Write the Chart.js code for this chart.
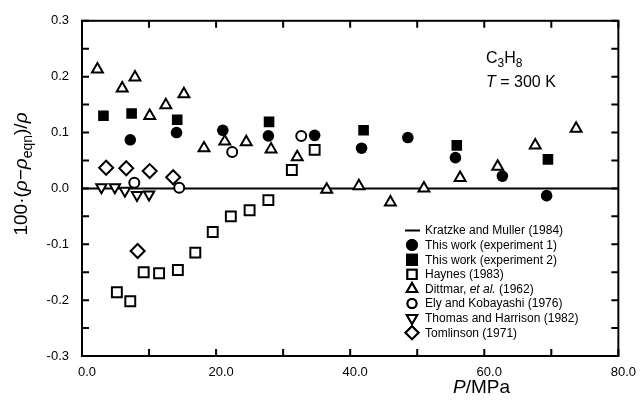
<!DOCTYPE html>
<html>
<head>
<meta charset="utf-8">
<title>C3H8 density deviations</title>
<script src="https://cdn.jsdelivr.net/npm/chart.js@4.4.0/dist/chart.umd.min.js"></script>
<style>
  html, body { margin: 0; padding: 0; background: #fff; }
  #wrap { width: 640px; height: 402px; }
</style>
</head>
<body>
<div id="wrap"><canvas id="chart"></canvas></div>
<script>
// pressure (MPa) and deviation 100*(rho - rho_eqn)/rho for every source
const kratzkeP = [0, 80];
const kratzkeDev = [0, 0];

const exp1P = [7.2, 14.1, 21.0, 27.8, 34.7, 41.7, 48.6, 55.7, 62.7, 69.3];
const exp1Dev = [0.087, 0.100, 0.104, 0.094, 0.095, 0.072, 0.091, 0.055, 0.022, -0.013];

const exp2P = [3.2, 7.4, 14.2, 27.9, 42.0, 55.9, 69.5];
const exp2Dev = [0.130, 0.134, 0.123, 0.119, 0.104, 0.077, 0.052];

const haynesP = [5.2, 7.2, 9.2, 11.5, 14.3, 16.9, 19.5, 22.2, 25.0, 27.8, 31.3, 34.7];
const haynesDev = [-0.186, -0.202, -0.150, -0.152, -0.146, -0.115, -0.078, -0.050, -0.039, -0.021, 0.033, 0.069];

const dittmarP = [2.3, 6.0, 7.9, 10.1, 12.5, 15.2, 18.2, 21.3, 24.5, 28.2, 32.1, 36.5, 41.3, 46.0, 51.0, 56.4, 62.0, 67.6, 73.7];
const dittmarDev = [0.213, 0.179, 0.199, 0.130, 0.149, 0.169, 0.072, 0.084, 0.083, 0.070, 0.056, -0.002, 0.004, -0.025, 0.000, 0.019, 0.039, 0.077, 0.107];

const elyP = [7.8, 14.5, 22.4, 32.7];
const elyDev = [0.010, 0.001, 0.065, 0.094];

const thomasP = [2.9, 4.9, 6.4, 8.2, 10.0];
const thomasDev = [0.002, 0.002, -0.004, -0.012, -0.011];

const tomlinsonP = [3.6, 6.6, 8.3, 10.1, 13.6];
const tomlinsonDev = [0.037, 0.036, -0.112, 0.031, 0.020];

const xTicks = [0, 20, 40, 60, 80];
const yTicks = [-0.3, -0.2, -0.1, 0.0, 0.1, 0.2, 0.3];

const FONT = '"Liberation Sans", Arial, Helvetica, sans-serif';

function pts(xs, ys) {
  return xs.map((v, i) => ({ x: v, y: ys[i] }));
}

// legend rows: label runs + marker style
const legendItems = [
  { line: true, runs: [['Kratzke and Muller (1984)']] },
  { style: 'circle', r: 5, fill: '#000', runs: [['This work (experiment 1)']] },
  { style: 'rect', r: 7, fill: '#000', runs: [['This work (experiment 2)']] },
  { style: 'rect', r: 6.5, fill: '#fff', runs: [['Haynes (1983)']] },
  { style: 'triangle', r: 6, fill: '#fff', runs: [['Dittmar, '], ['et al.', 'i'], [' (1962)']] },
  { style: 'circle', r: 4.5, fill: '#fff', runs: [['Ely and Kobayashi (1976)']] },
  { style: 'triangle', r: 6, rot: 180, fill: '#fff', runs: [['Thomas and Harrison (1982)']] },
  { style: 'rectRot', r: 6.5, fill: '#fff', runs: [['Tomlinson (1971)']] }
];

// draw a run of text pieces: [text, kind] kind: undefined normal, 'i' italic, 'sub' subscript
function drawRuns(ctx, runs, x, y, size) {
  let cx = x;
  for (const [t, kind] of runs) {
    let s = size, dy = 0, st = '';
    if (kind === 'i') st = 'italic ';
    if (kind === 'sub') { s = Math.round(size * 0.72); dy = size * 0.28; }
    ctx.font = st + s + 'px ' + FONT;
    ctx.fillText(t, cx, y + dy);
    cx += ctx.measureText(t).width;
  }
  return cx - x;
}

function measureRuns(ctx, runs, size) {
  let w = 0;
  for (const [t, kind] of runs) {
    let s = size, st = '';
    if (kind === 'i') st = 'italic ';
    if (kind === 'sub') s = Math.round(size * 0.72);
    ctx.font = st + s + 'px ' + FONT;
    w += ctx.measureText(t).width;
  }
  return w;
}

function marker(ctx, item, x, y) {
  ctx.save();
  ctx.fillStyle = item.fill;
  ctx.strokeStyle = '#000';
  ctx.lineWidth = 2;
  Chart.helpers.drawPoint(ctx, {
    pointStyle: item.style, radius: item.r, rotation: item.rot || 0, borderWidth: 2
  }, x, y);
  ctx.fill();
  ctx.stroke();
  ctx.restore();
}

const decorPlugin = {
  id: 'decor',
  afterDatasetsDraw(chart) {
    const { ctx, chartArea: a, scales } = chart;
    const xs = scales.x, ys = scales.y;
    ctx.save();
    ctx.strokeStyle = '#000';
    ctx.fillStyle = '#000';
    ctx.lineWidth = 2;
    ctx.strokeRect(a.left, a.top, a.right - a.left, a.bottom - a.top);

    // inward ticks on all four sides
    ctx.beginPath();
    for (let v = 0; v <= 80; v += 10) {
      const px = xs.getPixelForValue(v);
      ctx.moveTo(px, a.bottom); ctx.lineTo(px, a.bottom - 7);
      ctx.moveTo(px, a.top); ctx.lineTo(px, a.top + 7);
    }
    for (let k = -6; k <= 6; k++) {
      const py = ys.getPixelForValue(k * 0.05);
      ctx.moveTo(a.left, py); ctx.lineTo(a.left + 7, py);
      ctx.moveTo(a.right, py); ctx.lineTo(a.right - 7, py);
    }
    ctx.stroke();

    // legend
    ctx.textBaseline = 'middle';
    ctx.textAlign = 'left';
    let ly = 230.5;
    for (const it of legendItems) {
      if (it.line) {
        ctx.beginPath();
        ctx.moveTo(405, ly); ctx.lineTo(420, ly);
        ctx.stroke();
      } else {
        marker(ctx, it, 412, ly);
      }
      ctx.fillStyle = '#000';
      drawRuns(ctx, it.runs, 425, ly + 0.5, 12);
      ly += 14.6;
    }

    // annotation
    ctx.textBaseline = 'alphabetic';
    drawRuns(ctx, [['C'], ['3', 'sub'], ['H'], ['8', 'sub']], 486, 63, 16);
    drawRuns(ctx, [['T', 'i'], [' = 300 K']], 486, 87, 16);

    // x title
    drawRuns(ctx, [['P', 'i'], ['/MPa']], 453, 393, 19);

    // y title, rotated
    const yRuns = [['100·('], ['ρ', 'i'], ['−'], ['ρ', 'i'], ['eqn', 'sub'], [')/'], ['ρ', 'i']];
    const w = measureRuns(ctx, yRuns, 19);
    ctx.translate(27, 174 + w / 2);
    ctx.rotate(-Math.PI / 2);
    drawRuns(ctx, yRuns, 0, 0, 19);
    ctx.restore();
  }
};

const tickFont = { family: FONT, size: 13 };

new Chart(document.getElementById('chart'), {
  type: 'scatter',
  data: {
    datasets: [
      { label: 'Dittmar, et al. (1962)', data: pts(dittmarP, dittmarDev), order: 1,
        pointStyle: 'triangle', pointRadius: 6.3, backgroundColor: '#fff', borderColor: '#000', borderWidth: 2 },
      { label: 'Ely and Kobayashi (1976)', data: pts(elyP, elyDev), order: 2,
        pointStyle: 'circle', pointRadius: 5, backgroundColor: '#fff', borderColor: '#000', borderWidth: 2 },
      { label: 'Thomas and Harrison (1982)', data: pts(thomasP, thomasDev), order: 3,
        pointStyle: 'triangle', rotation: 180, pointRadius: 6, backgroundColor: '#fff', borderColor: '#000', borderWidth: 2 },
      { label: 'Tomlinson (1971)', data: pts(tomlinsonP, tomlinsonDev), order: 4,
        pointStyle: 'rectRot', pointRadius: 7, backgroundColor: '#fff', borderColor: '#000', borderWidth: 2 },
      { label: 'Haynes (1983)', data: pts(haynesP, haynesDev), order: 5,
        pointStyle: 'rect', pointRadius: 7, backgroundColor: '#fff', borderColor: '#000', borderWidth: 2 },
      { label: 'This work (experiment 2)', data: pts(exp2P, exp2Dev), order: 6,
        pointStyle: 'rect', pointRadius: 7.5, backgroundColor: '#000', borderColor: '#000', borderWidth: 0 },
      { label: 'This work (experiment 1)', data: pts(exp1P, exp1Dev), order: 7,
        pointStyle: 'circle', pointRadius: 5.8, backgroundColor: '#000', borderColor: '#000', borderWidth: 0 },
      { label: 'Kratzke and Muller (1984)', type: 'line', data: pts(kratzkeP, kratzkeDev), order: 10,
        borderColor: '#000', borderWidth: 2, pointRadius: 0, fill: false }
    ]
  },
  options: {
    responsive: true,
    maintainAspectRatio: false,
    animation: false,
    layout: { padding: { top: 17, right: 21, left: 0, bottom: 0 } },
    plugins: { legend: { display: false }, tooltip: { enabled: false } },
    scales: {
      x: {
        type: 'linear', min: 0, max: 80,
        grid: { display: false, drawTicks: false }, border: { display: false },
        afterBuildTicks: s => { s.ticks = xTicks.map(v => ({ value: v })); },
        afterFit: s => { s.height = 46; },
        ticks: { font: tickFont, color: '#000', padding: 9, labelOffset: 5, maxRotation: 0,
                 callback: v => v.toFixed(1) }
      },
      y: {
        type: 'linear', min: -0.3, max: 0.3,
        grid: { display: false, drawTicks: false }, border: { display: false },
        afterBuildTicks: s => { s.ticks = yTicks.map(v => ({ value: v })); },
        afterFit: s => { s.width = 82; },
        ticks: { font: tickFont, color: '#000', padding: 13,
                 callback: v => v.toFixed(1) }
      }
    }
  },
  plugins: [decorPlugin]
});
</script>
</body>
</html>
